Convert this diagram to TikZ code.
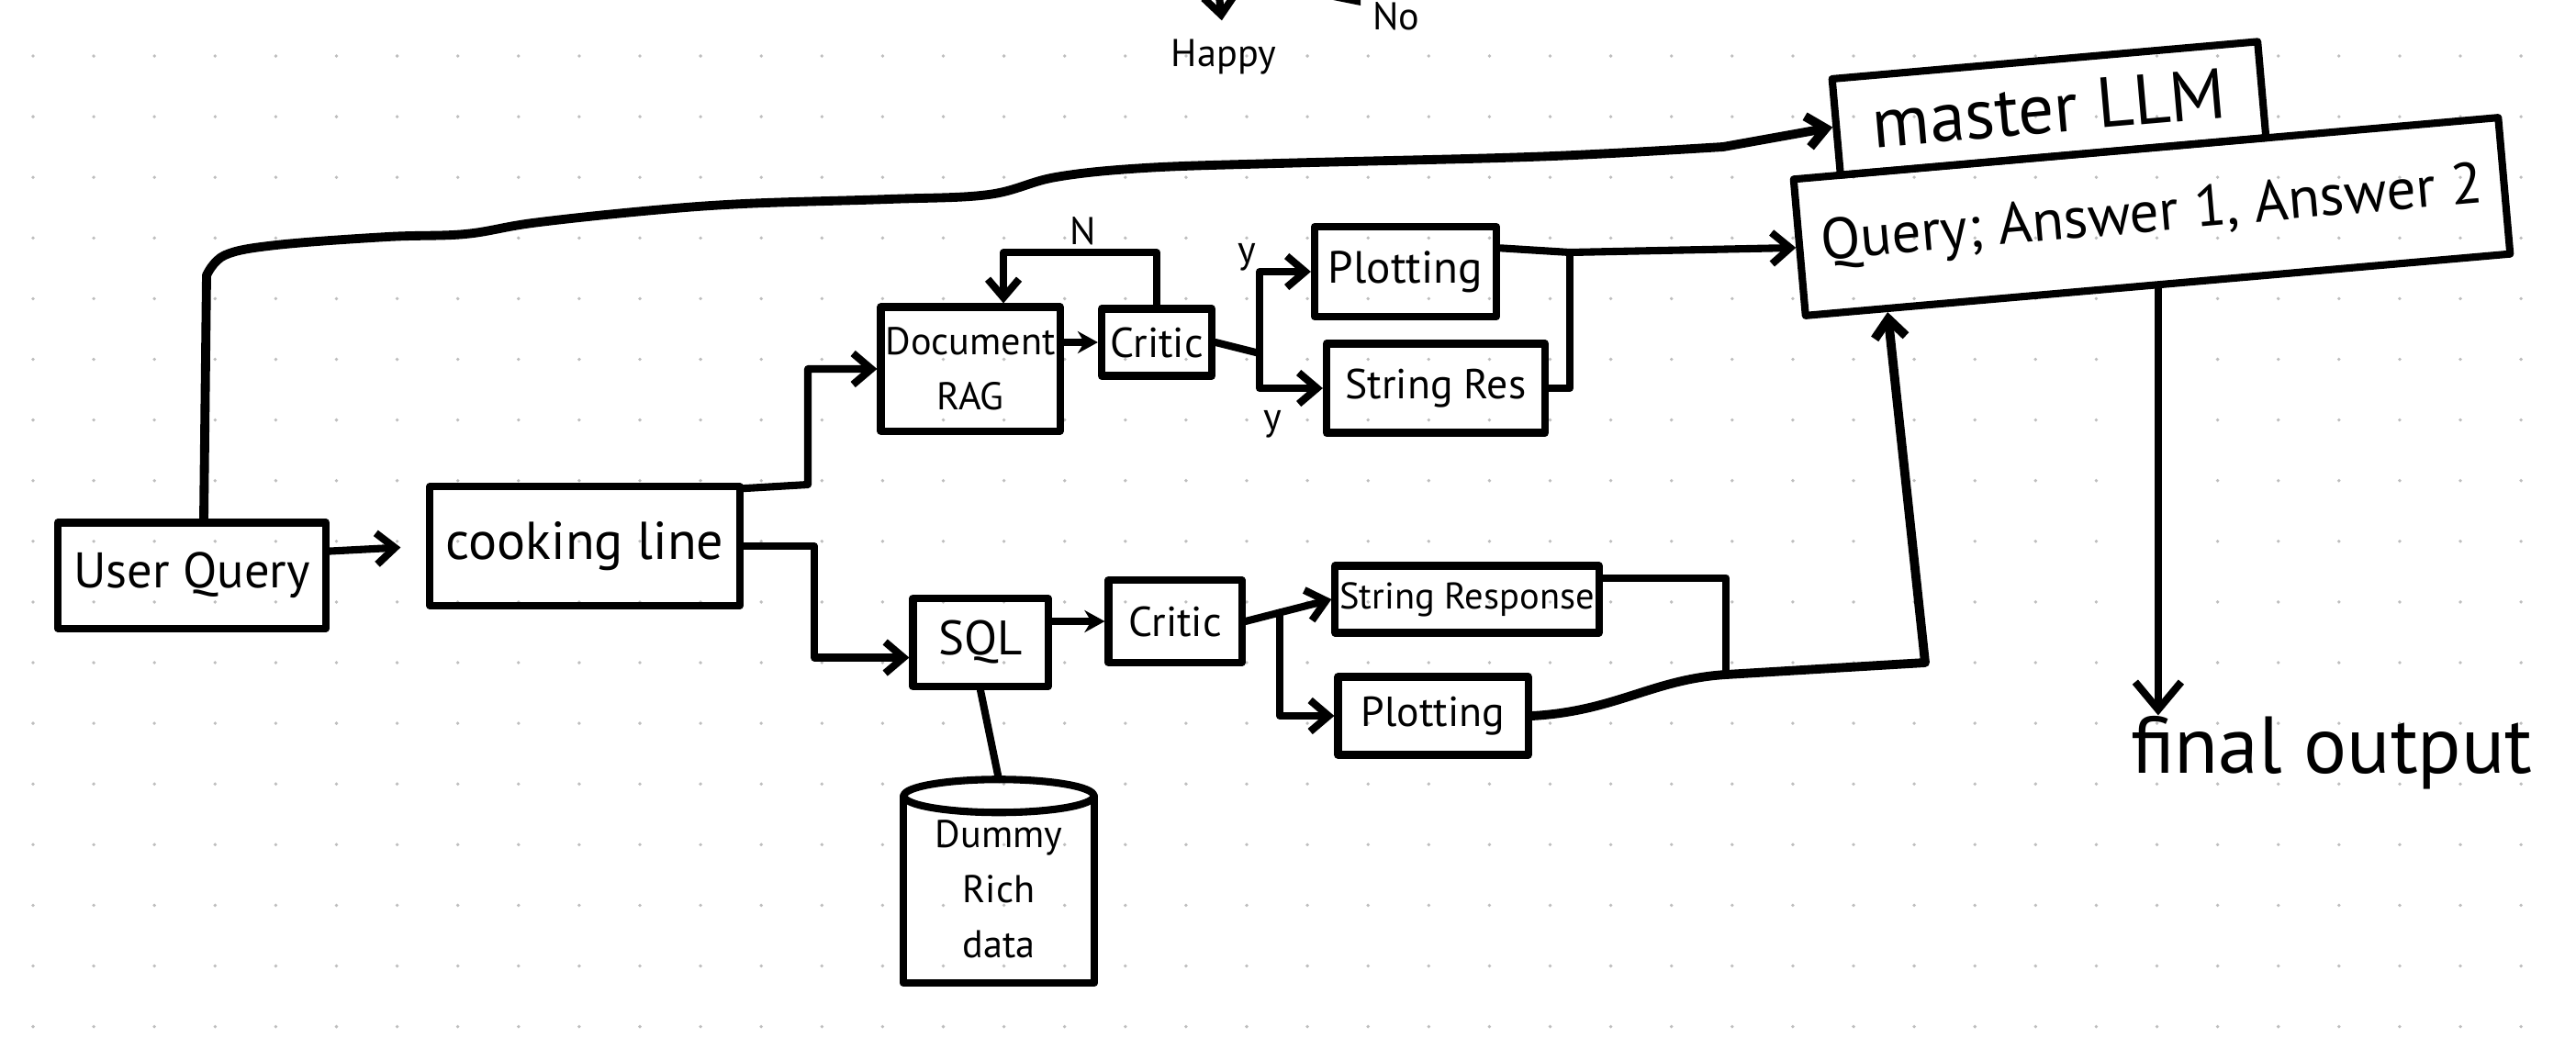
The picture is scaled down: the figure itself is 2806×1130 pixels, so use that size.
\documentclass[tikz,border=0pt]{standalone}
\usepackage{fontspec}
\setmainfont{PT Sans}
\usetikzlibrary{arrows.meta,calc}

\begin{document}
\begin{tikzpicture}[x=0.01cm,y=-0.01cm,
  ink/.style={line width=2.3pt, line cap=round, line join=round},
  box/.style={ink, draw, rectangle, inner sep=0pt, align=center},
  conn/.style={ink},
  heavy/.style={line width=2.8pt},
  vhead/.style={-{Straight Barb[length=0.2cm,width=0.34cm]}},
  bighead/.style={-{Straight Barb[length=0.3cm,width=0.5cm]}},
  fhead/.style={-{Stealth[length=0.22cm,width=0.24cm]}},
  lbl/.style={inner sep=0pt},
]
\definecolor{dotc}{RGB}{190,190,190}

% page and dotted paper
\clip (0,0) rectangle (2806,1130);
\fill[white] (0,0) rectangle (2806,1130);
\foreach \i in {0,...,41}{
  \foreach \j in {0,...,16}{
    \fill[dotc] ({36+66.1*\i},{61+66.1*\j}) circle (0.019cm);
  }
}

% boxes
\node[box, minimum width=2.92cm, minimum height=1.15cm, font=\fontsize{15.5}{18}\selectfont] (uq) at (209,627) {User Query};
\node[box, minimum width=3.37cm, minimum height=1.30cm, font=\fontsize{16.5}{19}\selectfont] (cl) at (637,595) {cooking line};
\node[box, minimum width=1.95cm, minimum height=1.35cm, font=\fontsize{12}{17}\selectfont] (rag) at (1057,402) {Document\\RAG};
\node[box, minimum width=1.20cm, minimum height=0.73cm, font=\fontsize{13}{15}\selectfont] (critA) at (1260,373) {Critic};
\node[box, minimum width=1.98cm, minimum height=0.98cm, font=\fontsize{14}{16}\selectfont] (plotA) at (1531,296) {Plotting};
\node[box, minimum width=2.38cm, minimum height=0.97cm, font=\fontsize{13}{15}\selectfont] (strA) at (1564,423) {String Res};
\node[box, minimum width=1.47cm, minimum height=0.96cm, font=\fontsize{15}{17}\selectfont] (sql) at (1068,700) {SQL};
\node[box, minimum width=1.45cm, minimum height=0.90cm, font=\fontsize{13}{15}\selectfont] (critB) at (1280,677) {Critic};
\node[box, minimum width=2.87cm, minimum height=0.73cm, font=\fontsize{11.5}{14}\selectfont] (strB) at (1598,653) {String Response};
\node[box, minimum width=2.07cm, minimum height=0.85cm, font=\fontsize{13}{15}\selectfont] (plotB) at (1561,780) {Plotting};
\node[align=center, inner sep=0pt, minimum width=2.07cm, minimum height=2.02cm, font=\fontsize{12}{17}\selectfont] (db) at (1088,969) {Dummy\\Rich\\data};
\node[box, rotate=5, minimum width=4.65cm, minimum height=1.05cm, font=\fontsize{22}{26}\selectfont] (master) at (2232,118) {master LLM};
\node[box, rotate=5, minimum width=7.70cm, minimum height=1.49cm, font=\fontsize{18}{21}\selectfont] (query) at (2344,236) {Query; Answer 1, Answer 2};

% free labels
\node[lbl, font=\fontsize{25}{30}\selectfont] (fo) at (2540,820) {final output};
\node[lbl, font=\fontsize{12}{14}\selectfont] (happy) at (1333,62) {Happy};
\node[lbl, font=\fontsize{12}{14}\selectfont] (no) at (1521,18) {No};
\node[lbl, font=\fontsize{12}{14}\selectfont] (nlab) at (1180,252) {N};
\node[lbl, font=\fontsize{12}{14}\selectfont] (ylabA) at (1358,280) {y};
\node[lbl, font=\fontsize{12}{14}\selectfont] (ylabB) at (1386,462) {y};

% database cylinder
\draw[ink] (db.north west) -- (db.south west) -- (db.south east) -- (db.north east);
\draw[ink] (db.north) ellipse [x radius=1.035cm, y radius=0.18cm];

% junctions
\coordinate (jA) at (1372,385);
\coordinate (jB) at (1710,275);
\coordinate (jC) at ($(critB.east)!0.4!(strB.west)$);
\coordinate (jD) at (1880,735);
\coordinate (qIn) at ($(query.south west)!0.12!(query.south east)$);

% connectors
\draw[conn, heavy, vhead] ([xshift=0.13cm]uq.north) -- (225,300)
  -- plot[smooth, tension=0.6] coordinates {(225,300) (245,278) (301,267) (422,258) (507,255) (580,243) (701,230) (810,222) (968,217) (1077,212) (1150,193) (1247,183) (1392,178) (1634,172) (1756,167) (1877,160)}
  -- (master.west);
\draw[conn, vhead, shorten >=0.28cm] (uq.10) -- (cl.west);
\draw[conn, vhead] (cl.20) -- (880,528) |- (rag.west);
\draw[conn, vhead] (cl.east) -- (887,595) |- (sql.192);
\draw[conn, fhead] (critA.west -| rag.east) -- (critA.west);
\draw[conn, vhead] (critA.north) -- ++(0,-57) -| ([xshift=0.36cm]rag.north);
\draw[conn] (critA.east) -- (jA);
\draw[conn, vhead] (jA) |- (plotA.west);
\draw[conn, vhead] (jA) |- (strA.west);
\draw[conn, vhead] (plotA.14) -- (jB) -- (query.west);
\draw[conn] (strA.east) -| (jB);
\draw[conn, fhead] (sql.east |- critB.west) -- (critB.west);
\draw[conn, vhead] (critB.east) -- (strB.west);
\draw[conn, vhead] (jC) |- (plotB.west);
\draw[conn] (strB.9) -| (jD);
\draw[conn, heavy, vhead] (plotB.east) .. controls (1760,775) and (1800,740) .. (jD) -- (2097,722) -- (qIn);
\draw[conn, bighead] (query.south) -- (query.south |- fo.north);
\draw[conn] (sql.south) -- ([yshift=0.18cm]db.north);
\draw[conn, vhead, shorten >=0.2cm] (1322,-60) -- (happy.north);
\draw[conn, vhead] (1430,-60) -- (1482,6);
\end{tikzpicture}
\end{document}
